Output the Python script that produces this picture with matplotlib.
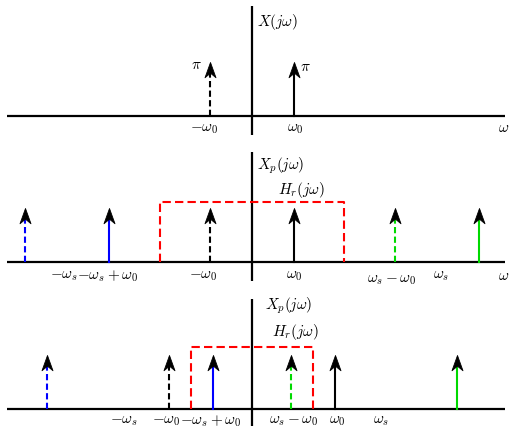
import matplotlib
matplotlib.use("Agg")
import matplotlib.pyplot as plt
from matplotlib.path import Path

plt.rcParams['mathtext.fontset'] = 'cm'

# panel 1: spectrum of the cosine, impulses at -w0 and w0
x1_pos = [-1.0, 1.0]
x1_col = ['k', 'k']
x1_dash = [True, False]

# panel 2: sampled spectrum, ws > 2*w0 (ws = 4.4, w0 = 1)
x2_pos = [-5.4, -3.4, -1.0, 1.0, 3.4, 5.4]
x2_col = ['b', 'b', 'k', 'k', 'g', 'g']
x2_dash = [True, False, True, False, True, False]
hr2_edges = [-2.2, 2.2]
hr2_height = 1.11

# panel 3: sampled spectrum, ws < 2*w0 (ws = 2.9, w0 = 1.97) -> aliasing
x3_pos = [-4.87, -1.97, -0.93, 0.93, 1.97, 4.87]
x3_col = ['b', 'k', 'b', 'g', 'k', 'g']
x3_dash = [True, True, False, True, False, False]
hr3_edges = [-1.45, 1.45]
hr3_height = 1.15

impulse_h = 1.0

W, H = 509, 427
X0 = 252.0     # pixel column of the vertical axis
XS = 42.0      # pixels per unit of omega
YS = 54.0      # pixels per unit of amplitude

fig = plt.figure(figsize=(W / 100, H / 100), dpi=100)

head = Path([(0, 0), (-0.36, -1), (0, -0.7), (0.36, -1), (0, 0)],
            [Path.MOVETO, Path.LINETO, Path.LINETO, Path.LINETO, Path.CLOSEPOLY])
g = (0, 0.85, 0)


def make_axes(top, bottom, base):
    ax = fig.add_axes([0, 1 - bottom / H, 1, (bottom - top) / H])
    ax.set_xlim(-X0 / XS, (W - X0) / XS)
    ax.set_ylim(-(bottom - base) / YS, (base - top) / YS)
    ax.axis('off')
    ax.plot([-5.83, 6.02], [0, 0], color='k', lw=1.6, solid_capstyle='butt')
    ax.plot([0, 0], [-0.35, 2.04], color='k', lw=1.6, solid_capstyle='butt')
    return ax


def impulses(ax, pos, cols, dashed):
    for x, c, d in zip(pos, cols, dashed):
        c = g if c == 'g' else c
        ls = (0, (3, 1.6)) if d else '-'
        ax.plot([x, x], [0, impulse_h - 0.2], color=c, lw=1.5, ls=ls)
        ax.plot([x], [impulse_h], marker=head, ms=22, color='k', mew=0.6,
                ls='none', zorder=5)


def lowpass(ax, edges, h):
    ax.plot([edges[0], edges[0], edges[1], edges[1]], [0, h, h, 0],
            color='r', lw=1.5, ls=(0, (4, 2)), zorder=3)


def lab(ax, x, y, s, ha='center', va='top'):
    ax.text(x, y, s, ha=ha, va=va, fontsize=11)


# ---- panel 1
ax1 = make_axes(0, 142, 117)
impulses(ax1, x1_pos, x1_col, x1_dash)
lab(ax1, 0.12, 1.75, r'$X(j\omega)$', ha='left', va='center')
lab(ax1, -1.33, 0.97, r'$\pi$', va='center')
lab(ax1, 1.26, 0.93, r'$\pi$', va='center')
lab(ax1, -1.14, -0.08, r'$-\omega_0$')
lab(ax1, 1.02, -0.08, r'$\omega_0$')
lab(ax1, 5.98, -0.06, r'$\omega$')

# ---- panel 2
ax2 = make_axes(142, 285, 263)
lowpass(ax2, hr2_edges, hr2_height)
impulses(ax2, x2_pos, x2_col, x2_dash)
lab(ax2, 0.12, 1.8, r'$X_p(j\omega)$', ha='left', va='center')
lab(ax2, 0.62, 1.35, r'$H_r(j\omega)$', ha='left', va='center')
lab(ax2, -4.48, -0.1, r'$-\omega_s$')
lab(ax2, -3.43, -0.1, r'$-\omega_s+\omega_0$')
lab(ax2, -1.17, -0.1, r'$-\omega_0$')
lab(ax2, 1.0, -0.1, r'$\omega_0$')
lab(ax2, 3.33, -0.17, r'$\omega_s-\omega_0$')
lab(ax2, 4.5, -0.1, r'$\omega_s$')
lab(ax2, 5.98, -0.09, r'$\omega$')

# ---- panel 3
ax3 = make_axes(285, 427, 410)
lowpass(ax3, hr3_edges, hr3_height)
impulses(ax3, x3_pos, x3_col, x3_dash)
lab(ax3, 0.31, 1.93, r'$X_p(j\omega)$', ha='left', va='center')
lab(ax3, 0.48, 1.44, r'$H_r(j\omega)$', ha='left', va='center')
lab(ax3, -3.05, -0.06, r'$-\omega_s$')
lab(ax3, -2.05, -0.06, r'$-\omega_0$')
lab(ax3, -0.98, -0.06, r'$-\omega_s+\omega_0$')
lab(ax3, 1.0, -0.06, r'$\omega_s-\omega_0$')
lab(ax3, 2.02, -0.06, r'$\omega_0$')
lab(ax3, 3.07, -0.06, r'$\omega_s$')
lab(ax3, 6.0, -0.21, r'$\omega$', va='top')

fig.savefig('out.png', dpi=100)
